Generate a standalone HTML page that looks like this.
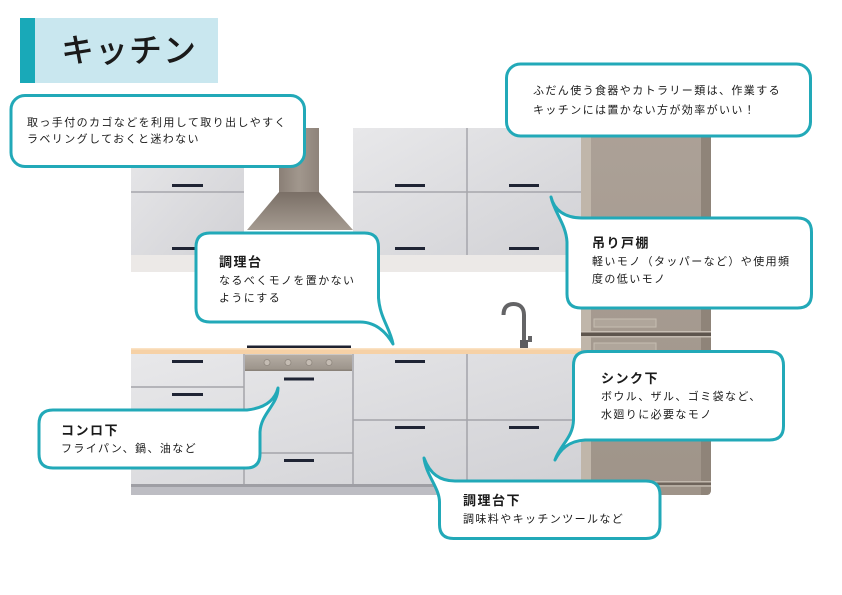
<!DOCTYPE html>
<html><head><meta charset="utf-8"><style>
html,body{margin:0;padding:0;background:#fff;}
svg{display:block;}
text{font-family:"Liberation Sans","Noto Sans CJK JP",sans-serif;fill:#1a1a1a;}
.b{font-size:11px;letter-spacing:1.4px;}
.h{font-size:13px;font-weight:bold;letter-spacing:1.5px;}
</style></head><body>
<svg width="842" height="595" viewBox="0 0 842 595" xmlns="http://www.w3.org/2000/svg">
<defs>
<linearGradient id="cab" x1="0" y1="0" x2="1" y2="1">
<stop offset="0" stop-color="#e8e8ea"/><stop offset="1" stop-color="#d1d1d5"/></linearGradient>
<linearGradient id="chim" x1="0" y1="0" x2="1" y2="0">
<stop offset="0" stop-color="#8a7f76"/><stop offset="0.5" stop-color="#a1978d"/><stop offset="1" stop-color="#8e837a"/></linearGradient>
<linearGradient id="hood" x1="0" y1="0" x2="0" y2="1">
<stop offset="0" stop-color="#7a6f66"/><stop offset="1" stop-color="#a59b91"/></linearGradient>
<linearGradient id="frg" x1="0" y1="0" x2="0" y2="1">
<stop offset="0" stop-color="#aca197"/><stop offset="1" stop-color="#9f9489"/></linearGradient>
<linearGradient id="panel" x1="0" y1="0" x2="0" y2="1">
<stop offset="0" stop-color="#b6aea5"/><stop offset="1" stop-color="#9c948b"/></linearGradient>
</defs>

<!-- title -->
<rect x="35" y="18" width="183" height="65" fill="#c9e7ef"/>
<rect x="20" y="18" width="15" height="65" fill="#19a9b8"/>
<text x="61" y="62" style="font-size:33px;font-weight:500;letter-spacing:1px">キッチン</text>

<!-- upper cabinets -->
<rect x="131" y="128" width="113" height="127" fill="url(#cab)"/>
<line x1="131" y1="192" x2="244" y2="192" stroke="#a6a6ac" stroke-width="1.5"/>
<rect x="353" y="128" width="228" height="127" fill="url(#cab)"/>
<line x1="353" y1="192" x2="581" y2="192" stroke="#a6a6ac" stroke-width="1.5"/>
<line x1="467" y1="128" x2="467" y2="255" stroke="#a6a6ac" stroke-width="1.5"/>
<rect x="131" y="255" width="450" height="17" fill="#ece9e7"/>
<rect x="244" y="255" width="109" height="17" fill="#ffffff"/>

<!-- hood -->
<rect x="279" y="128" width="40" height="64" fill="url(#chim)"/>
<polygon points="279,192 319,192 353,230 247,230" fill="url(#hood)"/>

<!-- tall unit -->
<path d="M581,128 H711 V490 Q711,495 706,495 H581 Z" fill="url(#frg)"/>
<rect x="581" y="128" width="10" height="367" fill="#c0b6aa"/>
<path d="M701,128 H711 V490 Q711,495 706,495 H701 Z" fill="#8f8479"/>
<rect x="594" y="319" width="62" height="8" fill="#b0a69b" stroke="#c6bdb2" stroke-width="1"/>
<rect x="581" y="331" width="130" height="1.5" fill="#c9c0b5"/>
<rect x="581" y="332.5" width="130" height="3.5" fill="#5e554d"/>
<rect x="581" y="336" width="130" height="1.5" fill="#c4bbb0"/>
<rect x="594" y="343" width="62" height="8" fill="#b0a69b" stroke="#c6bdb2" stroke-width="1"/>
<rect x="581" y="481" width="130" height="1.5" fill="#c2b9ae"/>
<rect x="581" y="482.5" width="130" height="2.5" fill="#6e645b"/>
<rect x="581" y="485" width="130" height="2" fill="#b5aca1"/>

<!-- faucet -->
<path d="M503.5,315 C503.5,307 507.5,304 513.5,304 C520,304 524,308 524,315 V348" fill="none" stroke="#646466" stroke-width="4"/>
<rect x="520" y="340" width="8" height="8" fill="#5d5d60"/>
<rect x="528" y="336" width="4" height="6" fill="#646466"/>

<!-- countertop -->
<rect x="131" y="348" width="450" height="6" fill="#f6d1a6"/>
<rect x="131" y="348" width="450" height="1.5" fill="#fbe2c4"/>
<rect x="247" y="345.5" width="104" height="2.5" fill="#1e2230"/>

<!-- base cabinets -->
<rect x="131" y="354" width="450" height="130" fill="url(#cab)"/>
<g stroke="#a4a4aa" stroke-width="1.5">
<line x1="244" y1="354" x2="244" y2="484"/>
<line x1="353" y1="354" x2="353" y2="484"/>
<line x1="467" y1="354" x2="467" y2="484"/>
<line x1="131" y1="387" x2="244" y2="387"/>
<line x1="244" y1="453" x2="353" y2="453"/>
<line x1="353" y1="420" x2="581" y2="420"/>
</g>
<rect x="245" y="354.5" width="107" height="15" fill="url(#panel)"/>
<rect x="245" y="369.5" width="107" height="1.5" fill="#8a8279"/>
<g fill="#c4bcb3" stroke="#8f877e" stroke-width="0.8">
<circle cx="267" cy="362.5" r="3"/><circle cx="288" cy="362.5" r="3"/>
<circle cx="309" cy="362.5" r="3"/><circle cx="329" cy="362.5" r="3"/>
</g>
<rect x="131" y="484" width="450" height="3" fill="#9e9ea4"/>
<rect x="131" y="487" width="450" height="8" fill="#bdbdc3"/>

<!-- handles -->
<g fill="#1f2434">
<rect x="172" y="184" width="31" height="3"/><rect x="172" y="247" width="31" height="3"/>
<rect x="395" y="184" width="30" height="3"/><rect x="395" y="247" width="30" height="3"/>
<rect x="509" y="184" width="30" height="3"/><rect x="509" y="247" width="30" height="3"/>
<rect x="172" y="360" width="31" height="3"/><rect x="172" y="393" width="31" height="3"/>
<rect x="284" y="377.5" width="30" height="3"/><rect x="284" y="459" width="30" height="3"/>
<rect x="395" y="360" width="30" height="3"/><rect x="395" y="426" width="30" height="3"/>
<rect x="509" y="426" width="30" height="3"/>
</g>

<!-- callouts -->
<g fill="#fff" stroke="#22a9b8" stroke-width="3" stroke-linejoin="round">
<rect x="11" y="95.5" width="293.5" height="71" rx="14"/>
<rect x="506.5" y="64" width="304" height="72" rx="14"/>
<path d="M210,233 H364.5 Q378.5,233 378.5,247 V298 C380,318 390,328 393,344 C386,332 376,322 360,322 H210 Q196,322 196,308 V247 Q196,233 210,233 Z"/>
<path d="M582,218 H797.5 Q811.5,218 811.5,232 V294 Q811.5,308 797.5,308 H581 Q567,308 567,294 V242 C566,224 554,212 551,197 C554,210 565,218 582,218 Z"/>
<path d="M53,410 H247 C265,408 275,400 278,388 C278,405 261,413 260,432 V454 Q260,468 246,468 H53 Q39,468 39,454 V424 Q39,410 53,410 Z"/>
<path d="M587.5,351.5 H769.5 Q783.5,351.5 783.5,365.5 V426 Q783.5,440 769.5,440 H585 C568,441 560,450 555,460 C560,445 573,438 573.5,420 V365.5 Q573.5,351.5 587.5,351.5 Z"/>
<path d="M455,481 H646 Q660,481 660,495 V524.5 Q660,538.5 646,538.5 H453.5 Q439.5,538.5 439.5,524.5 V502 C439.5,488 426,475 424,458 C430,474 440,481 455,481 Z"/>
</g>

<!-- callout texts -->
<text class="b" x="27" y="126">取っ手付のカゴなどを利用して取り出しやすく</text>
<text class="b" x="27" y="142.5">ラベリングしておくと迷わない</text>

<text class="b" x="533" y="94">ふだん使う食器やカトラリー類は、作業する</text>
<text class="b" x="533" y="113.5">キッチンには置かない方が効率がいい！</text>

<text class="h" x="219" y="266.5">調理台</text>
<text class="b" x="219" y="284">なるべくモノを置かない</text>
<text class="b" x="219" y="301.5">ようにする</text>

<text class="h" x="592" y="247.5">吊り戸棚</text>
<text class="b" x="592" y="265">軽いモノ（タッパーなど）や使用頻</text>
<text class="b" x="592" y="282.5">度の低いモノ</text>

<text class="h" x="61" y="435">コンロ下</text>
<text class="b" x="61" y="452">フライパン、鍋、油など</text>

<text class="h" x="601" y="383">シンク下</text>
<text class="b" x="601" y="400">ボウル、ザル、ゴミ袋など、</text>
<text class="b" x="601" y="418">水廻りに必要なモノ</text>

<text class="h" x="463" y="505">調理台下</text>
<text class="b" x="463" y="522.5">調味料やキッチンツールなど</text>
</svg>
</body></html>
